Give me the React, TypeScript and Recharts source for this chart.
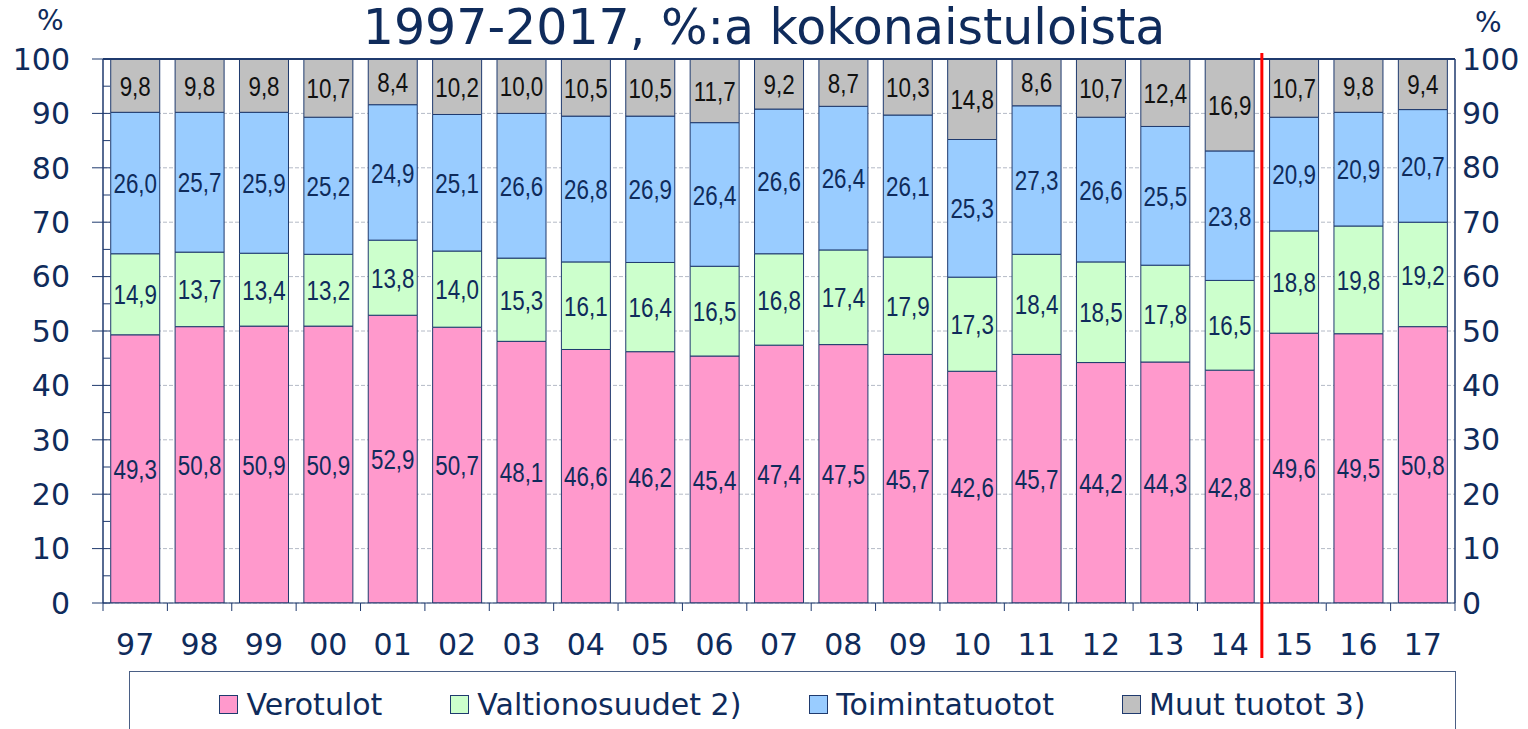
import { Bar, BarChart, CartesianGrid, LabelList, ReferenceLine, XAxis, YAxis } from "recharts";

const years = ["97", "98", "99", "00", "01", "02", "03", "04", "05", "06", "07", "08", "09", "10", "11", "12", "13", "14", "15", "16", "17"];
const verotulot = [49.3, 50.8, 50.9, 50.9, 52.9, 50.7, 48.1, 46.6, 46.2, 45.4, 47.4, 47.5, 45.7, 42.6, 45.7, 44.2, 44.3, 42.8, 49.6, 49.5, 50.8];
const valtionosuudet = [14.9, 13.7, 13.4, 13.2, 13.8, 14.0, 15.3, 16.1, 16.4, 16.5, 16.8, 17.4, 17.9, 17.3, 18.4, 18.5, 17.8, 16.5, 18.8, 19.8, 19.2];
const toimintatuotot = [26.0, 25.7, 25.9, 25.2, 24.9, 25.1, 26.6, 26.8, 26.9, 26.4, 26.6, 26.4, 26.1, 25.3, 27.3, 26.6, 25.5, 23.8, 20.9, 20.9, 20.7];
const muut = [9.8, 9.8, 9.8, 10.7, 8.4, 10.2, 10.0, 10.5, 10.5, 11.7, 9.2, 8.7, 10.3, 14.8, 8.6, 10.7, 12.4, 16.9, 10.7, 9.8, 9.4];

const majorTicks = [0, 10, 20, 30, 40, 50, 60, 70, 80, 90, 100];
const leftTicks = [0, 5, 10, 15, 20, 25, 30, 35, 40, 45, 50, 55, 60, 65, 70, 75, 80, 85, 90, 95, 100];
const splitBefore = "15"; // red line between 14 and 15

const series = [
  { key: "verotulot", name: "Verotulot", color: "#FF99CC", label: "#0F2B5B" },
  { key: "valtionosuudet", name: "Valtionosuudet 2)", color: "#CCFFCC", label: "#0F2B5B" },
  { key: "toimintatuotot", name: "Toimintatuotot", color: "#99CCFF", label: "#0F2B5B" },
  { key: "muut", name: "Muut tuotot 3)", color: "#C0C0C0", label: "#111111" },
];

const data = years.map((y, i) => ({
  year: y,
  verotulot: verotulot[i],
  valtionosuudet: valtionosuudet[i],
  toimintatuotot: toimintatuotot[i],
  muut: muut[i],
}));

const NAVY = "#0F2B5B";
const AXIS = "#1F3A6E";
const SANS = "'DejaVu Sans', Verdana, sans-serif";
const ARIAL = "'Liberation Sans', Arial, sans-serif";

const fmt = (v: any) => Number(v).toFixed(1).replace(".", ",");

// narrow-looking value label, centred in its segment
const makeLabel = (color: string) => (props: any) => {
  const { x, y, width, height, value } = props;
  const cx = Number(x) + Number(width) / 2;
  const cy = Number(y) + Number(height) / 2;
  return (
    <text
      transform={`translate(${cx},${cy}) scale(0.8,1)`}
      textAnchor="middle"
      dy="0.36em"
      fill={color}
      fontSize={28}
      fontFamily={ARIAL}
    >
      {fmt(value)}
    </text>
  );
};

function LeftTick(props: any) {
  const { x, y, payload } = props;
  const major = payload.value % 10 === 0;
  return (
    <g>
      <line x1={x} x2={x + 7} y1={y} y2={y} stroke={AXIS} />
      {major && <line x1={x - 11} x2={x} y1={y} y2={y} stroke={AXIS} />}
      {major && (
        <text x={x - 33} y={y} dy="0.36em" textAnchor="end" fill={NAVY} fontSize={30} fontFamily={SANS}>
          {payload.value}
        </text>
      )}
    </g>
  );
}

function YearTick(props: any) {
  const { x, y, payload, index } = props;
  const half = (props.width ?? 1352) / years.length / 2;
  return (
    <g>
      <line x1={x - half} x2={x - half} y1={y} y2={y + 8} stroke={AXIS} />
      {index === years.length - 1 && <line x1={x + half} x2={x + half} y1={y} y2={y + 8} stroke={AXIS} />}
      {payload.value === splitBefore && (
        <line x1={x - half} x2={x - half} y1={y - 550} y2={y + 55} stroke="#FF0000" strokeWidth={3} />
      )}
      <text x={x} y={y + 52} textAnchor="middle" fill={NAVY} fontSize={30} fontFamily={SANS}>
        {payload.value}
      </text>
    </g>
  );
}

export default function App() {
  return (
    <div style={{ position: "absolute", left: 0, top: 0, width: 1528, height: 729, background: "#fff", overflow: "hidden" }}>
      <div style={{ position: "absolute", left: 0, width: 1528, top: 0, textAlign: "center", fontFamily: SANS, fontSize: 49, color: NAVY, lineHeight: "56px" }}>
        1997-2017, %:a kokonaistuloista
      </div>
      <div style={{ position: "absolute", left: 37, top: 4, fontFamily: SANS, fontSize: 28, color: NAVY }}>%</div>
      <div style={{ position: "absolute", left: 1475, top: 6, fontFamily: SANS, fontSize: 28, color: NAVY }}>%</div>
      <BarChart
        width={1528}
        height={729}
        data={data}
        margin={{ top: 59, right: 0, bottom: 71, left: 0 }}
        barCategoryGap="12%"
      >
        <CartesianGrid yAxisId="right" vertical={false} stroke="#B4BAC6" strokeDasharray="4 2" />
        <XAxis
          dataKey="year"
          height={55}
          tickLine={false}
          tickSize={0}
          tickMargin={0}
          axisLine={{ stroke: AXIS }}
          interval={0}
          tick={<YearTick />}
        />
        <YAxis
          yAxisId="left"
          width={103}
          domain={[0, 100]}
          ticks={leftTicks}
          interval={0}
          allowDataOverflow
          tickLine={false}
          tickSize={0}
          tickMargin={0}
          axisLine={{ stroke: AXIS, strokeWidth: 1.5 }}
          tick={<LeftTick />}
        />
        <YAxis
          yAxisId="right"
          orientation="right"
          width={73}
          domain={[0, 100]}
          ticks={majorTicks}
          interval={0}
          allowDataOverflow
          tickLine={false}
          tickSize={0}
          tickMargin={7}
          axisLine={{ stroke: AXIS, strokeWidth: 1.5 }}
          tick={{ fill: NAVY, fontSize: 30, fontFamily: SANS, textAnchor: "start" }}
        />
        {series.map((s) => (
          <Bar
            key={s.key}
            dataKey={s.key}
            name={s.name}
            yAxisId="left"
            stackId="a"
            fill={s.color}
            stroke={AXIS}
            strokeWidth={1}
            isAnimationActive={false}
          >
            <LabelList dataKey={s.key} content={makeLabel(s.label)} />
          </Bar>
        ))}
        <ReferenceLine yAxisId="left" y={100} stroke={AXIS} strokeWidth={2} />
      </BarChart>
      <div
        style={{
          position: "absolute",
          left: 129,
          top: 671,
          width: 1327,
          height: 80,
          border: "1px solid #4A5F85",
          boxSizing: "border-box",
          display: "flex",
          justifyContent: "center",
          gap: 68,
          paddingTop: 12,
          fontFamily: SANS,
          fontSize: 30,
          color: NAVY,
        }}
      >
        {series.map((s) => (
          <div key={s.key} style={{ display: "flex", alignItems: "center", height: 40 }}>
            <span style={{ display: "inline-block", width: 17, height: 17, background: s.color, border: `1px solid ${AXIS}`, marginRight: 8 }} />
            <span>{s.name}</span>
          </div>
        ))}
      </div>
    </div>
  );
}
